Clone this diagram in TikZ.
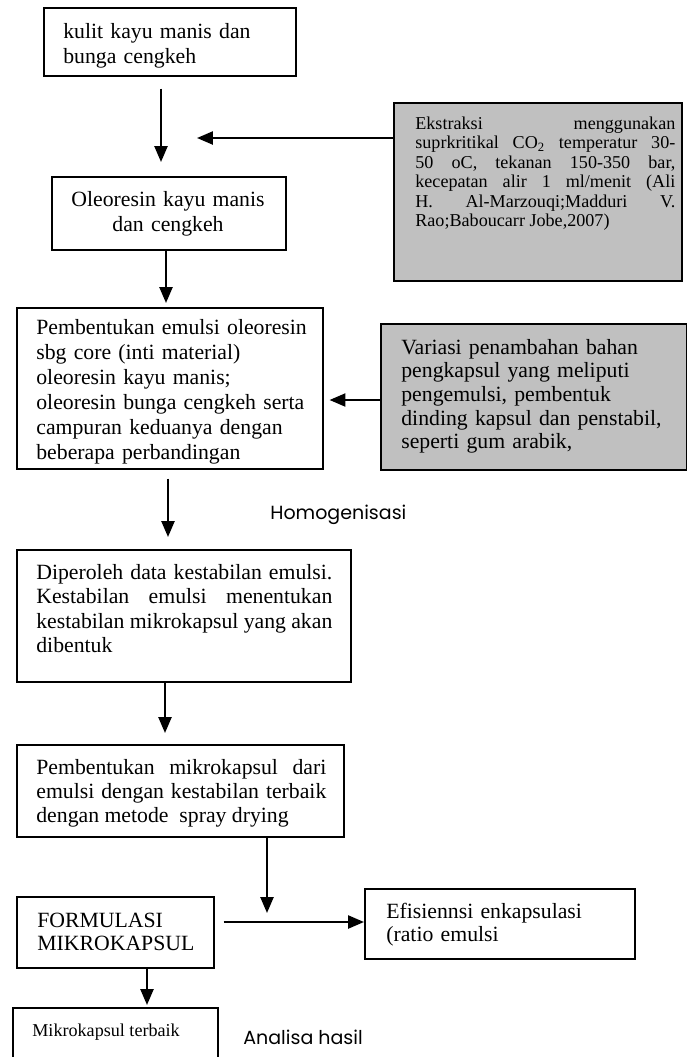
\documentclass[tikz,border=0pt]{standalone}
\usepackage{fontspec}
\setmainfont{Liberation Serif}
\newfontfamily\handfont{Poppins}
\usetikzlibrary{arrows.meta}
\definecolor{BoxGrey}{HTML}{C0C0C0}
\newcommand{\pxu}{0.552pt}

\begin{document}
\begin{tikzpicture}[x=0.552pt, y=-0.552pt,
  frame/.style={draw, line width=0.85pt, anchor=north west, inner sep=0pt},
  size/.style 2 args={minimum width=#1*\pxu, minimum height=#2*\pxu},
  shaded/.style={frame, fill=BoxGrey},
  txt/.style={anchor=base west, inner sep=0pt, align=left, font=\fontsize{12}{13.8}\selectfont},
  smalltxt/.style={txt, font=\fontsize{10}{10.8}\selectfont},
  note/.style={anchor=base west, inner sep=0pt, font=\handfont\fontsize{10.5}{12}\selectfont},
  arrow/.style={-{Triangle[length=8.8pt, width=7.2pt]}, line width=1.2pt}
]
  \useasboundingbox (0,0) rectangle (687,1057);

  % frames
  \node[frame, size={252}{68}] (kulit) at (43,7) {};
  \node[frame, size={234}{73}] (oleo) at (51,176) {};
  \node[frame, size={306}{161}] (emulsi) at (16,307) {};
  \node[shaded, size={288}{178}] (ekstraksi) at (393,102) {};
  \node[shaded, size={306}{146}] (variasi) at (380,323) {};
  \node[frame, size={334}{132}] (data) at (16,549) {};
  \node[frame, size={327}{92}] (spray) at (16,744) {};
  \node[frame, size={197}{71}] (formulasi) at (16,896) {};
  \node[frame, size={270}{70}] (efisiensi) at (364,888) {};
  \node[frame, size={205}{70}] (terbaik) at (12,1007) {};

  % texts
  \node[txt, text width=225*\pxu] (kulit-t) at (63,38) {kulit kayu manis dan\\bunga cengkeh};
  \node[txt, anchor=base, align=center, text width=200*\pxu] (oleo-t) at (168,206)
    {Oleoresin kayu manis\\dan cengkeh};
  \node[txt, text width=284*\pxu] (emulsi-t) at (36,334) {Pembentukan emulsi oleoresin\\sbg core (inti material)\\
    oleoresin kayu manis;\\oleoresin bunga cengkeh serta\\campuran keduanya dengan\\
    beberapa perbandingan};
  \node[smalltxt, align=justify, text width=260*\pxu] (ekstraksi-t) at (415,129)
    {Ekstraksi menggunakan\linebreak suprkritikal CO\textsubscript{2} temperatur 30-\linebreak
     50 oC, tekanan 150-350 bar,\linebreak kecepatan alir 1 ml/menit (Ali\linebreak
     H. Al-Marzouqi;Madduri V.\linebreak Rao;Baboucarr Jobe,2007)};
  \node[txt, text width=280*\pxu, font=\fontsize{12}{13.1}\selectfont] (variasi-t) at (401,354)
    {Variasi penambahan bahan\\pengkapsul yang meliputi\\pengemulsi, pembentuk\\
     dinding kapsul dan penstabil,\\seperti gum arabik,};
  \node[txt, align=justify, text width=296*\pxu, font=\fontsize{12}{13.6}\selectfont] (data-t) at (36,579)
    {Diperoleh data kestabilan emulsi.\linebreak Kestabilan emulsi menentukan\linebreak
     kestabilan mikrokapsul yang akan\linebreak dibentuk};
  \node[txt, align=justify, text width=290*\pxu, font=\fontsize{12}{13.5}\selectfont] (spray-t) at (36,774)
    {Pembentukan mikrokapsul dari\linebreak emulsi dengan kestabilan terbaik\linebreak
     dengan metode\ \ spray drying};
  \node[txt, text width=170*\pxu, font=\fontsize{12}{13.2}\selectfont] (formulasi-t) at (37,927)
    {FORMULASI\\MIKROKAPSUL};
  \node[txt, text width=240*\pxu, font=\fontsize{12}{13.2}\selectfont] (efisiensi-t) at (386,918)
    {Efisiennsi enkapsulasi\\(ratio emulsi};
  \node[smalltxt] (terbaik-t) at (32,1036) {Mikrokapsul terbaik};
  \node[note] (homog) at (270,519) {Homogenisasi};
  \node[note] (analisa) at (243,1044) {Analisa hasil};

  % connectors
  \coordinate (join1) at (197,138);
  \coordinate (join2) at (267,913);
  \draw[arrow, shorten <=12*\pxu, shorten >=14*\pxu] (kulit.south -| 161,0) -- (oleo.north -| 161,0);
  \draw[arrow] (ekstraksi.west |- join1) -- (join1);
  \draw[arrow, shorten >=4*\pxu] (oleo.south -| 166,0) -- (emulsi.north -| 166,0);
  \draw[arrow, shorten >=6*\pxu] (variasi.west |- 0,400) -- (emulsi.east |- 0,400);
  \draw[arrow, shorten <=9*\pxu, shorten >=12*\pxu] (emulsi.south -| 168,0) -- (data.north -| 168,0);
  \draw[arrow, shorten >=11*\pxu] (data.south -| 165,0) -- (spray.north -| 165,0);
  \draw[arrow] (spray.south -| join2) -- (join2);
  \draw[arrow, shorten <=9*\pxu] (formulasi.east |- 0,922) -- (efisiensi.west |- 0,922);
  \draw[arrow, shorten >=2*\pxu] (formulasi.south -| 147,0) -- (terbaik.north -| 147,0);
\end{tikzpicture}
\end{document}
